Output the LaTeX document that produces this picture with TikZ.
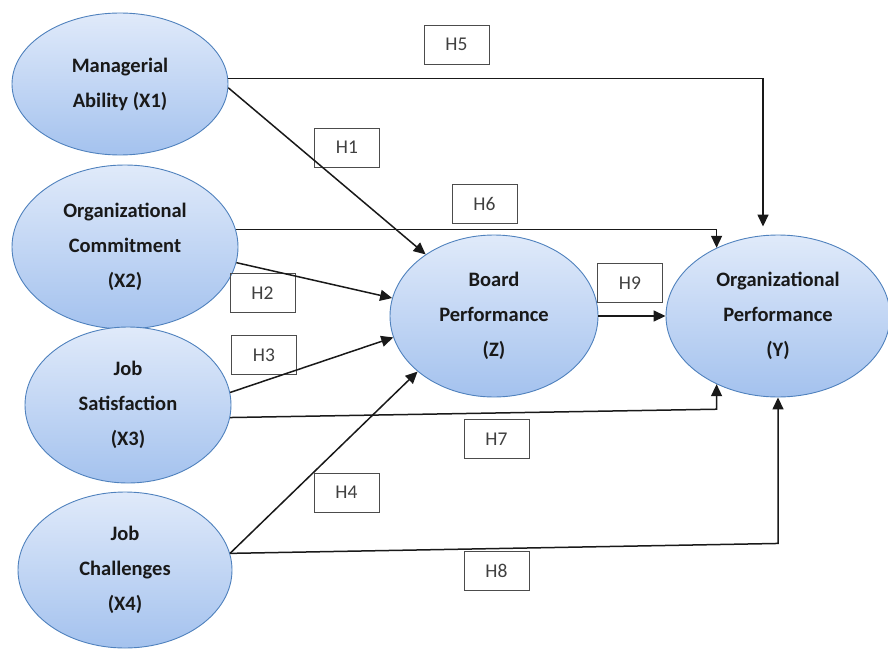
\documentclass[tikz,border=0pt]{standalone}
\usepackage{fontspec}
\setmainfont{Carlito}
\usepackage{tikz}
\usetikzlibrary{arrows.meta, positioning, shapes.geometric, calc}
\definecolor{varline}{RGB}{79,129,189}
\definecolor{vartop}{RGB}{224,234,250}
\definecolor{varbot}{RGB}{164,194,238}
\definecolor{hyptext}{RGB}{64,64,64}

\tikzset{
    latent/.style={ellipse, draw=varline, line width=0.9pt, top color=vartop, bottom color=varbot,
                   inner sep=0pt, align=center, text=black!90,
                   font=\bfseries\fontsize{20.5}{35}\selectfont},
    hyp/.style={draw=black!70, line width=0.8pt, minimum width=65pt, minimum height=39pt,
                inner sep=0pt, text=hyptext, font=\fontsize{19.5}{20}\selectfont},
    link/.style={line width=1.5pt, black!90, -{Triangle[length=12pt, width=11pt]}}
}

\begin{document}
\begin{tikzpicture}[x=1pt, y=-1pt]
        \useasboundingbox (0,0) rectangle (888,650);

        % --- Variables latentes ---
        \node[latent, minimum width=216pt, minimum height=142pt] (x1) at (120,84) {Managerial\\Ability (X1)};
        \node[latent, minimum width=226pt, minimum height=164pt] (x2) at (125,247) {Organizational\\Commitment\\(X2)};
        \node[latent, minimum width=206pt, minimum height=156pt] (x3) at (128,405) {Job\\Satisfaction\\(X3)};
        \node[latent, minimum width=214pt, minimum height=156pt] (x4) at (125,570) {Job\\Challenges\\(X4)};
        \node[latent, minimum width=208pt, minimum height=162pt] (board) at (494,316) {Board\\Performance\\(Z)};
        \node[latent, minimum width=224pt, minimum height=162pt] (orgperf) at (778,316) {Organizational\\Performance\\(Y)};

        % --- Hypotheses ---
        \foreach \h/\x/\y in {H5/456.5/44.5, H1/347/147.5, H6/484.5/204, H2/262.5/293, H9/630/283,
                              H3/264/355, H7/496.5/439, H4/346.5/492.5, H8/496.5/571} {
            \node[hyp] (\h) at (\x,\y) {\h};
        }

        % --- Effets vers Z ---
        \draw[link] (x1.358) -- (board.138);
        \draw[link] (x2.352) -- (board.170);
        \draw[link] (x3.7) -- (board.192);
        \draw[link] (x4.9) -- (board.216);

        % --- Effets directs vers Y ---
        \draw[link] (x1.3) -| ([xshift=-15pt, yshift=8pt]orgperf.north);
        \draw[link] (x2.9) -| (orgperf.132);
        \draw[link] (x3.353) -- ($(orgperf.228)+(0,25)$) -- (orgperf.228);
        \draw[link] (x4.9) -- ($(orgperf.south)+(0,146)$) -- (orgperf.south);

        % --- Mediation ---
        \draw[link] (board) -- (orgperf);
    \end{tikzpicture}
\end{document}
